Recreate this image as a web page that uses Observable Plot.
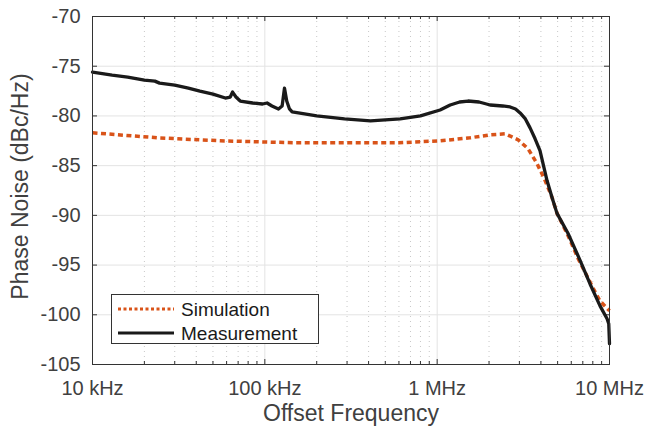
<!DOCTYPE html>
<html>
<head>
<meta charset="utf-8">
<script src="https://cdn.jsdelivr.net/npm/d3@7"></script>
<script src="https://cdn.jsdelivr.net/npm/@observablehq/plot@0.6"></script>
<style>
  html, body { margin: 0; padding: 0; background: #fff; }
  #wrap { position: relative; width: 647px; height: 428px; font-family: "Liberation Sans", Arial, Helvetica, sans-serif; }
  #legend { position: absolute; left: 111px; top: 294px; width: 208px; height: 50px; border: 1px solid #333; background: #fff; box-sizing: border-box; }
  #legend svg { position: absolute; left: 0; top: 0; }
</style>
</head>
<body>
<div id="wrap"></div>
<script>
// ---- data ----
const measFreq = [1e4, 1.3e4, 1.6e4, 2.0e4, 2.3e4, 2.45e4, 3.0e4, 3.6e4, 4.2e4, 5.0e4, 5.9e4, 6.3e4, 6.5e4, 6.8e4, 7.2e4, 8.5e4, 9.7e4, 1.03e5, 1.1e5, 1.2e5, 1.26e5, 1.3e5, 1.34e5, 1.39e5, 1.44e5, 1.7e5, 2.0e5, 2.9e5, 4.1e5, 6.1e5, 8.0e5, 1.04e6, 1.19e6, 1.35e6, 1.51e6, 1.75e6, 2.03e6, 2.4e6, 2.65e6, 2.85e6, 3.03e6, 3.25e6, 3.46e6, 3.7e6, 3.95e6, 4.34e6, 4.64e6, 4.96e6, 5.74e6, 6.74e6, 7.71e6, 8.81e6, 9.68e6, 9.9e6, 1.0e7];
const measPN   = [-75.6, -75.9, -76.1, -76.4, -76.5, -76.7, -76.9, -77.2, -77.5, -77.8, -78.2, -78.1, -77.6, -78.1, -78.5, -78.7, -78.8, -78.7, -79.0, -79.3, -79.0, -77.2, -78.5, -79.3, -79.6, -79.8, -80.0, -80.3, -80.5, -80.3, -80.0, -79.4, -78.9, -78.6, -78.5, -78.6, -78.9, -79.0, -79.1, -79.3, -79.7, -80.3, -81.2, -82.3, -83.5, -86.5, -88.2, -89.8, -91.8, -94.5, -96.9, -99.1, -100.4, -100.9, -102.9];

const simFreq = [1e4, 2.4e4, 5.5e4, 1.5e5, 6e5, 1.04e6, 1.55e6, 2.03e6, 2.48e6, 2.95e6, 3.37e6, 3.8e6, 4.23e6, 4.64e6, 4.96e6, 5.7e6, 6.56e6, 8.02e6, 8.8e6, 1.0e7];
const simPN   = [-81.7, -82.2, -82.5, -82.7, -82.7, -82.5, -82.2, -81.9, -81.8, -82.4, -83.3, -84.8, -86.5, -88.2, -89.8, -91.9, -94.3, -97.3, -98.6, -99.6];

const xTicks = [1e4, 1e5, 1e6, 1e7];
const xTickLabels = ["10 kHz", "100 kHz", "1 MHz", "10 MHz"];
const yTicks = [-105, -100, -95, -90, -85, -80, -75, -70];
const seriesNames = ["Simulation", "Measurement"];
const seriesColors = ["#D95319", "#1a1a1a"];
const xLabel = "Offset Frequency";
const yLabel = "Phase Noise (dBc/Hz)";

// ---- derived ----
const xMinor = [];
for (let d = 1e4; d < 1e7; d *= 10) for (let m = 2; m <= 9; m++) xMinor.push(d * m);
const meas = measFreq.map((f, i) => ({f, v: measPN[i]}));
const sim = simFreq.map((f, i) => ({f, v: simPN[i]}));

const xDom = [xTicks[0], xTicks[xTicks.length - 1]];
const yDom = [yTicks[0], yTicks[yTicks.length - 1]];
const W = 647, H = 428, mL = 92, mR = 38, mT = 16, mB = 64;
const pxPerDecade = (W - mL - mR) / Math.log10(xDom[1] / xDom[0]);
const pxPerUnit = (H - mT - mB) / (yDom[1] - yDom[0]);
const majLen = 5, minLen = 3;
const textColor = "#404040";
const xFmt = d => {
  const i = xTicks.findIndex(t => Math.abs(Math.log10(t) - Math.log10(d)) < 1e-6);
  return i >= 0 ? xTickLabels[i] : "";
};

const chart = Plot.plot({
  width: W, height: H,
  marginLeft: mL, marginRight: mR, marginTop: mT, marginBottom: mB,
  style: {fontFamily: '"Liberation Sans", Arial, Helvetica, sans-serif', color: textColor, background: "#fff"},
  x: {type: "log", domain: xDom},
  y: {domain: yDom},
  marks: [
    // minor dotted grid
    Plot.ruleX(xMinor, {stroke: "#c8c8c8", strokeWidth: 1, strokeDasharray: "1,4"}),
    // major grid
    Plot.ruleX(xTicks, {stroke: "#e3e3e3", strokeWidth: 1}),
    Plot.ruleY(yTicks, {stroke: "#e3e3e3", strokeWidth: 1}),
    // inward ticks
    Plot.ruleX(xMinor, {y1: yDom[0], y2: yDom[0] + minLen / pxPerUnit, stroke: "#333"}),
    Plot.ruleX(xMinor, {y1: yDom[1], y2: yDom[1] - minLen / pxPerUnit, stroke: "#333"}),
    Plot.ruleX(xTicks, {y1: yDom[0], y2: yDom[0] + majLen / pxPerUnit, stroke: "#333"}),
    Plot.ruleX(xTicks, {y1: yDom[1], y2: yDom[1] - majLen / pxPerUnit, stroke: "#333"}),
    Plot.ruleY(yTicks, {x1: xDom[0], x2: xDom[0] * Math.pow(10, majLen / pxPerDecade), stroke: "#333"}),
    Plot.ruleY(yTicks, {x1: xDom[1], x2: xDom[1] / Math.pow(10, majLen / pxPerDecade), stroke: "#333"}),
    // data
    Plot.line(sim, {x: "f", y: "v", stroke: seriesColors[0], strokeWidth: 3.5, strokeDasharray: "5,3.5", strokeLinecap: "butt"}),
    Plot.line(meas, {x: "f", y: "v", stroke: seriesColors[1], strokeWidth: 3.3, strokeLinejoin: "round"}),
    Plot.frame({stroke: "#333", strokeWidth: 1}),
    // axes
    Plot.axisX(xTicks, {tickSize: 0, tickPadding: 16, fontSize: 20, tickFormat: xFmt, label: null, fill: textColor}),
    Plot.axisY(yTicks, {tickSize: 0, tickPadding: 12, fontSize: 20, label: null, fill: textColor, tickFormat: d => String(d)}),
    Plot.text([xLabel], {frameAnchor: "bottom", textAnchor: "middle", dy: 56, fontSize: 23, fill: textColor, text: d => d}),
    Plot.text([yLabel], {frameAnchor: "left", textAnchor: "middle", dx: -72, dy: -4, rotate: -90, fontSize: 23, fill: textColor, text: d => d})
  ]
});

const wrap = document.getElementById("wrap");
wrap.appendChild(chart);

// legend
const lg = document.createElement("div");
lg.id = "legend";
const ns = "http://www.w3.org/2000/svg";
const svg = document.createElementNS(ns, "svg");
svg.setAttribute("width", 208); svg.setAttribute("height", 50);
seriesNames.forEach((name, i) => {
  const y = 14 + i * 24;
  const ln = document.createElementNS(ns, "line");
  ln.setAttribute("x1", 6); ln.setAttribute("x2", 62);
  ln.setAttribute("y1", y); ln.setAttribute("y2", y);
  ln.setAttribute("stroke", seriesColors[i]);
  ln.setAttribute("stroke-width", 3);
  if (i === 0) ln.setAttribute("stroke-dasharray", "3,2.5");
  svg.appendChild(ln);
  const t = document.createElementNS(ns, "text");
  t.setAttribute("x", 69); t.setAttribute("y", y);
  t.setAttribute("dy", "0.35em");
  t.setAttribute("font-size", 19);
  t.setAttribute("fill", "#1a1a1a");
  t.setAttribute("font-family", '"Liberation Sans", Arial, sans-serif');
  t.textContent = name;
  svg.appendChild(t);
});
lg.appendChild(svg);
wrap.appendChild(lg);
</script>
</body>
</html>
